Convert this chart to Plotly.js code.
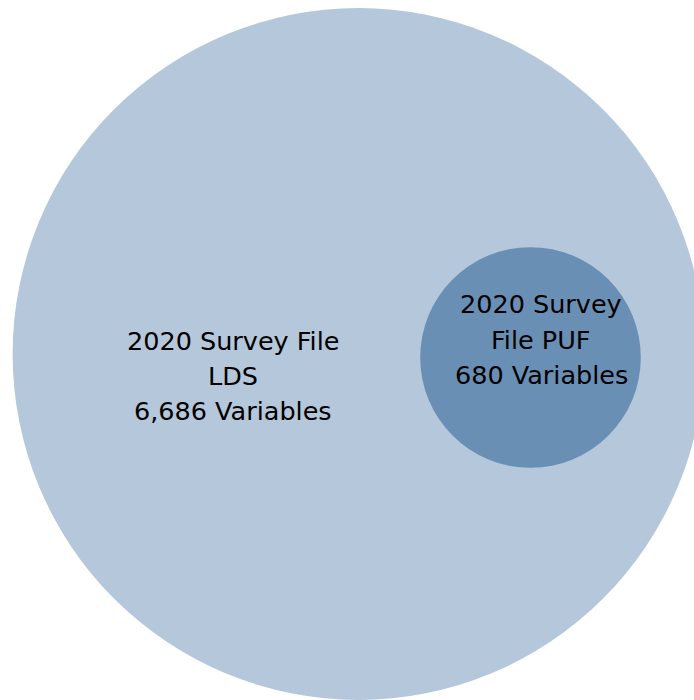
<!DOCTYPE html>
<html>
<head>
<meta charset="utf-8">
<script src="https://cdn.plot.ly/plotly-3.0.1.min.js"></script>
<style>html,body{margin:0;padding:0;background:#fff;}#chart{width:694px;height:700px;}</style>
</head>
<body>
<div id="chart"></div>
<script>
// Data
const sets = ["2020 Survey File LDS", "2020 Survey File PUF"];
const variableCounts = [6686, 680];
const labelLines = [["2020 Survey File", "LDS"], ["2020 Survey", "File PUF"]];
const fillColors = ["#b5c7da", "#6a8fb5"];

// Layout (pixel-like data coordinates)
const centers = [[358.5, 354], [530.5, 357.5]];
const radiusScale = 4.23; // radius = scale * sqrt(count)
const labelCenters = [[233, [341, 376, 411]], [541, [304, 340, 375]]];

const shapes = [];
const annotations = [];
variableCounts.forEach((v, i) => {
  const r = radiusScale * Math.sqrt(v);
  const [cx, cy] = centers[i];
  shapes.push({
    type: "circle", xref: "x", yref: "y",
    x0: cx - r, x1: cx + r, y0: cy - r, y1: cy + r,
    fillcolor: fillColors[i], line: {width: 0}, layer: "below"
  });
  const lines = labelLines[i].concat([v.toLocaleString("en-US") + " Variables"]);
  const [lx, ys] = labelCenters[i];
  lines.forEach((t, j) => {
    annotations.push({
      text: t, x: lx, y: ys[j], xref: "x", yref: "y",
      showarrow: false, xanchor: "center", yanchor: "middle",
      font: {family: "DejaVu Sans", size: 25.5, color: "#000000"}
    });
  });
});

const trace = {
  type: "scatter", mode: "markers", x: centers.map(c => c[0]), y: centers.map(c => c[1]),
  text: sets, hoverinfo: "text", marker: {opacity: 0}
};

const layout = {
  width: 694, height: 700,
  margin: {l: 0, r: 0, t: 0, b: 0},
  paper_bgcolor: "#ffffff", plot_bgcolor: "#ffffff",
  showlegend: false,
  xaxis: {range: [0, 694], visible: false, fixedrange: true},
  yaxis: {range: [700, 0], visible: false, fixedrange: true},
  shapes: shapes,
  annotations: annotations
};

Plotly.newPlot("chart", [trace], layout, {displayModeBar: false, staticPlot: true});
</script>
</body>
</html>
